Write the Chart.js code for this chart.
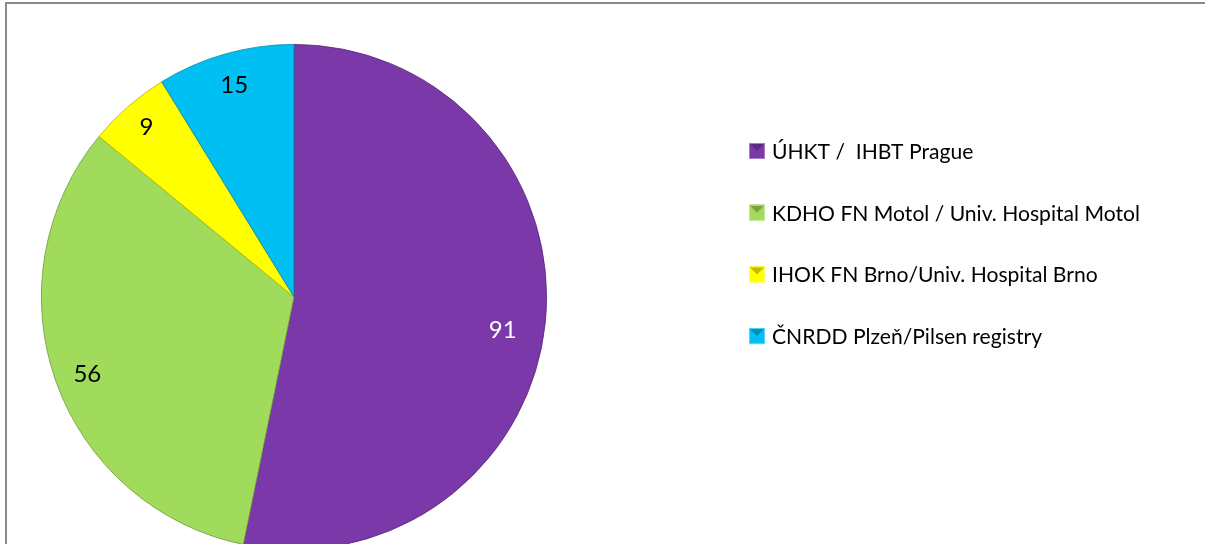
<!DOCTYPE html>
<html>
<head>
<meta charset="utf-8">
<script src="https://cdn.jsdelivr.net/npm/chart.js@4.4.0/dist/chart.umd.min.js"></script>
<style>
  html, body { margin: 0; padding: 0; background: #fff; }
  #wrap { position: relative; width: 1205px; height: 544px; overflow: hidden; background: #fff; }
  #frame { position: absolute; left: 5px; top: 2px; width: 1300px; height: 700px;
           border-left: 2px solid #8a8a8a; border-top: 2px solid #8a8a8a; box-sizing: border-box; }
  #c { position: absolute; left: 0; top: 0; }
</style>
</head>
<body>
<div id="wrap">
  <div id="frame"></div>
  <canvas id="c" width="1205" height="600"></canvas>
</div>
<script>
// ---- data ----
const categories = [
  'ÚHKT /  IHBT Prague',
  'KDHO FN Motol / Univ. Hospital Motol',
  'IHOK FN Brno/Univ. Hospital Brno',
  'ČNRDD Plzeň/Pilsen registry'
];
const values = [91, 56, 9, 15];
const colors = ['#7a38a8', '#a1db5b', '#ffff00', '#00bff2'];
const labelColors = ['#ffffff', '#000000', '#000000', '#000000'];

// ---- label placement (style options) ----
const labelRadiusFrac = [0.837, 0.874, 0.889, 0.871];
const labelAngleShiftDeg = [3.4, -1.1, 0, 0];

function shade(hex, f) {
  const n = parseInt(hex.slice(1), 16);
  let r = (n >> 16) & 255, g = (n >> 8) & 255, b = n & 255;
  const m = v => Math.max(0, Math.min(255, Math.round(f < 0 ? v * (1 + f) : v + (255 - v) * f)));
  return `rgb(${m(r)},${m(g)},${m(b)})`;
}

const dataLabelPlugin = {
  id: 'dataLabels',
  afterDatasetsDraw(chart) {
    const ctx = chart.ctx;
    const meta = chart.getDatasetMeta(0);
    ctx.save();
    ctx.font = '24px Lato';
    ctx.textAlign = 'center';
    ctx.textBaseline = 'middle';
    meta.data.forEach((arc, i) => {
      const p = arc.getProps(['x', 'y', 'startAngle', 'endAngle', 'outerRadius'], true);
      const a = (p.startAngle + p.endAngle) / 2 + labelAngleShiftDeg[i] * Math.PI / 180;
      const r = p.outerRadius * labelRadiusFrac[i];
      ctx.fillStyle = labelColors[i];
      ctx.fillText(String(values[i]), p.x + Math.cos(a) * r, p.y + Math.sin(a) * r);
    });
    ctx.restore();
  }
};

const legendPlugin = {
  id: 'sideLegend',
  afterDraw(chart) {
    const ctx = chart.ctx;
    ctx.save();
    ctx.font = '100px Lato';
    const w100 = ctx.measureText(categories[3]).width;
    const fs = Math.round(100 * 270 / w100 * 10) / 10;
    ctx.font = fs + 'px Lato';
    ctx.textBaseline = 'middle';
    ctx.textAlign = 'left';
    const x0 = 749, size = 16, textX = 772, y0 = 151, step = 61.7;
    categories.forEach((name, i) => {
      const cy = y0 + i * step;
      const top = cy - size / 2;
      const c = colors[i];
      ctx.fillStyle = c;
      ctx.fillRect(x0, top, size, size);
      ctx.fillStyle = shade(c, -0.25);
      ctx.beginPath();
      ctx.moveTo(x0, top); ctx.lineTo(x0 + size, top); ctx.lineTo(x0 + size / 2, top + size / 2); ctx.closePath();
      ctx.fill();
      ctx.strokeStyle = shade(c, 0.35);
      ctx.lineWidth = 1;
      ctx.strokeRect(x0 + 0.5, top + 0.5, size - 1, size - 1);
      ctx.fillStyle = '#000';
      ctx.fillText(name, textX, cy + 1);
    });
    ctx.restore();
  }
};

new Chart(document.getElementById('c'), {
  type: 'pie',
  data: {
    labels: categories,
    datasets: [{
      data: values,
      backgroundColor: colors,
      borderColor: colors.map(c => shade(c, -0.3)),
      borderWidth: 0.8,
      hoverOffset: 0,
      offset: 0
    }]
  },
  options: {
    responsive: false,
    animation: false,
    layout: { padding: { left: 41, right: 658, top: 44, bottom: 50 } },
    plugins: { legend: { display: false }, tooltip: { enabled: false } }
  },
  plugins: [dataLabelPlugin, legendPlugin]
});
</script>
</body>
</html>
